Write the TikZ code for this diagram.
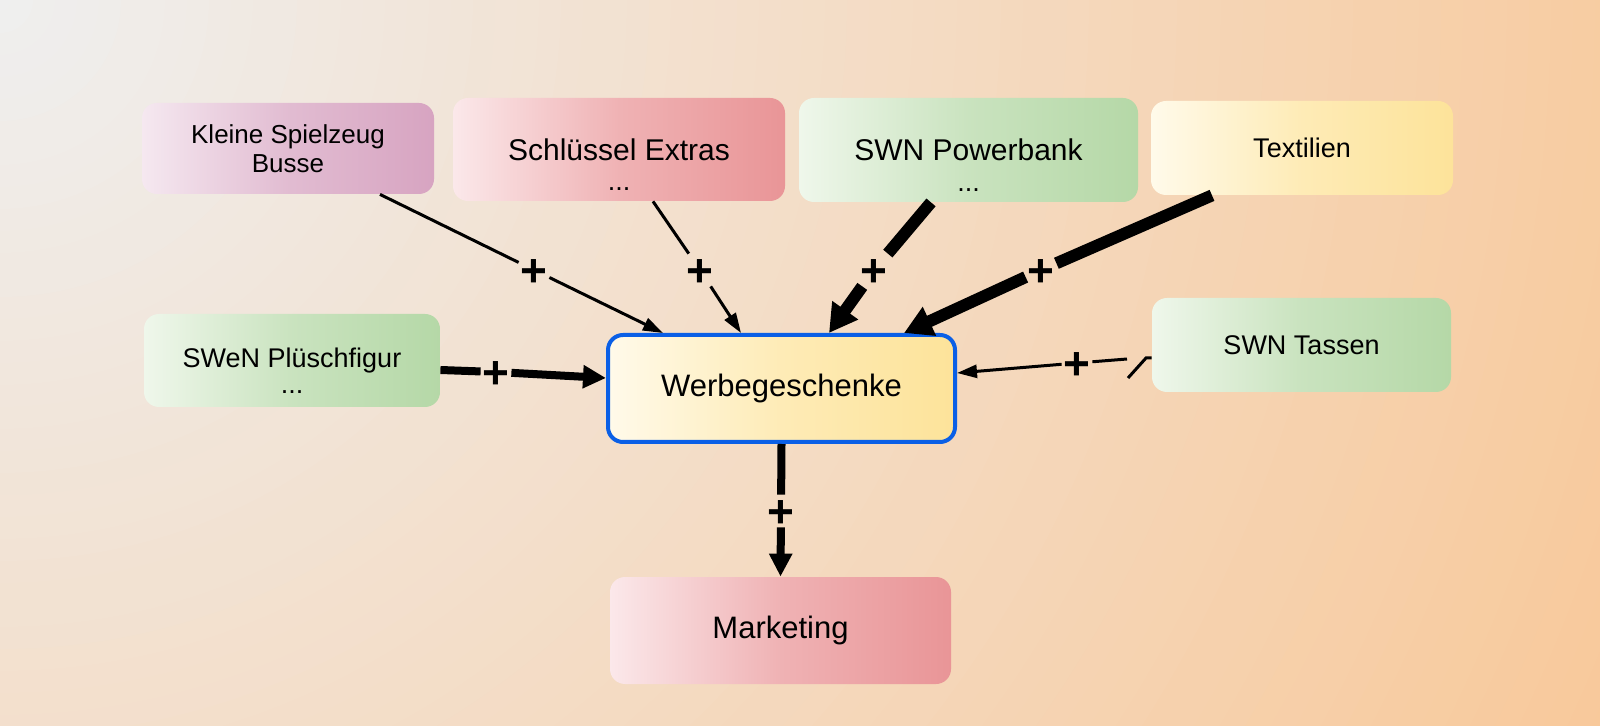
\documentclass[tikz,border=0pt]{standalone}
\usepackage{fontspec}
\setmainfont{Liberation Sans}
\usetikzlibrary{arrows.meta,calc}
\definecolor{bgA}{HTML}{EFEFEF}
\definecolor{bgC}{HTML}{F8C99B}
\definecolor{grL}{HTML}{EFF7EB}
\definecolor{grR}{HTML}{B5D8A7}
\definecolor{rdL}{HTML}{FBE8EA}
\definecolor{rdR}{HTML}{E99597}
\definecolor{puL}{HTML}{F5E8F0}
\definecolor{puR}{HTML}{D7A4C1}
\definecolor{yeL}{HTML}{FFFAEA}
\definecolor{yeR}{HTML}{FDE39A}
\definecolor{blueB}{HTML}{0A5FE6}
\newcommand{\plussign}{\smash{\raisebox{-0.35em}{+}}}
\tikzset{
  box/.style={rounded corners=7.5pt, inner sep=0pt, align=center, text=black},
  greenbox/.style={box, left color=grL, right color=grR, middle color=grR!65!grL},
  redbox/.style={box, left color=rdL, right color=rdR, middle color=rdR!65!rdL},
  purplebox/.style={box, left color=puL, right color=puR, middle color=puR!65!puL},
  yellowbox/.style={box, left color=yeL, right color=yeR, middle color=yeR!65!yeL},
  bigtext/.style={font=\fontsize{15}{18}\selectfont},
  smalltext/.style={font=\fontsize{13.5}{14.5}\selectfont},
  dots/.style={font=\fontsize{13.5}{14.5}\selectfont, inner sep=0pt, anchor=base},
  plusnode/.style={font=\bfseries\fontsize{23}{23}\selectfont, inner sep=0pt, minimum width=15pt, minimum height=16pt},
  thinline/.style={line width=1.5pt, draw=black},
  thinarrow/.style={thinline, -{Triangle[length=10pt,width=6.5pt]}},
  midline/.style={line width=4pt, draw=black},
  midarrow/.style={midline, -{Triangle[length=11.5pt,width=11pt]}},
  thickline/.style={line width=6pt, draw=black},
  thickarrow/.style={thickline, -{Triangle[length=14pt,width=15pt]}},
}
\begin{document}
\begin{tikzpicture}[x=0.5pt,y=-0.5pt]
% background: radial gradient centred on the top-left corner
\begin{scope}
\clip (0,0) rectangle (1600,726);
\fill[bgC] (0,0) rectangle (1600,726);
\foreach \i in {80,79,...,0}{
  \pgfmathtruncatemacro{\p}{round(\i*100/80)}
  \fill[bgC!\p!bgA] (0,0) circle[radius={(\i+0.5)*22}];
}
\end{scope}
\useasboundingbox (0,0) rectangle (1600,726);

% boxes
\node[purplebox, minimum width=146pt, minimum height=45.5pt, font=\fontsize{13}{14.5}\selectfont] (kleine) at (288,148.5) {Kleine Spielzeug\\Busse};
\node[redbox, bigtext, minimum width=166pt, minimum height=51.5pt] (schl) at (619,149.5) {Schlüssel Extras};
\node[dots] (schldots) at (619,191) {...};
\node[greenbox, bigtext, minimum width=169.5pt, minimum height=52pt] (pb) at (968.5,150) {SWN Powerbank};
\node[dots] (pbdots) at (968.5,192) {...};
\node[yellowbox, smalltext, minimum width=151pt, minimum height=47pt] (tex) at (1302,148) {Textilien};
\node[greenbox, smalltext, minimum width=148pt, minimum height=46.5pt] (pl) at (292,360.5) {SWeN Plüschfigur};
\node[dots] (pldots) at (292,394) {...};
\node[yellowbox, draw=blueB, line width=2pt, font=\fontsize{15.5}{18}\selectfont, minimum width=173.5pt, minimum height=53.5pt] (werbe) at (781.5,388.5) {Werbegeschenke};
\node[greenbox, smalltext, minimum width=149.5pt, minimum height=47pt] (tassen) at (1301.5,345) {SWN Tassen};
\node[redbox, font=\fontsize{15.5}{18}\selectfont, minimum width=170.5pt, minimum height=53.5pt] (mkt) at (780.5,630.5) {Marketing};

% plus labels
\node[plusnode] (p1) at (534,270) {\plussign};
\node[plusnode] (p2) at (700,270) {\plussign};
\node[plusnode] (p3) at (874,270) {\plussign};
\node[plusnode] (p4) at (1041,270) {\plussign};
\node[plusnode] (p5) at (496,372) {\plussign};
\node[plusnode] (p6) at (781,511) {\plussign};
\node[plusnode] (p7) at (1077,363) {\plussign};

% connectors
\draw[thinline] ($(kleine.south)+(92,0)$) -- (p1);
\draw[thinarrow] (p1) -- ($(werbe.north)+(-118.5,0)$);
\draw[thinline] ($(schl.south)+(34,0)$) -- (p2);
\draw[thinarrow] (p2) -- ($(werbe.north)+(-40.5,0)$);
\draw[thickline] ($(pb.south)+(-37.5,0)$) -- (p3);
\draw[thickarrow] (p3) -- ($(werbe.north)+(47.5,0)$);
\draw[thickline] ($(tex.south)+(-90,0)$) -- (p4);
\draw[thickarrow] (p4) -- ($(werbe.north)+(122.5,0)$);
\draw[midline] ($(pl.east)+(0,9.5)$) -- (p5);
\draw[midarrow] (p5) -- ($(werbe.west)+(0,-10.5)$);
\draw[midline] (werbe.south) -- (p6);
\draw[midarrow] (p6) -- (mkt.north);
\coordinate (tElbow) at (1146,358);
\coordinate (tEnd) at (1128,378);
\coordinate (tDash) at (1127,359);
\draw[thinline] ($(tassen.west)+(0,13)$) -- (tElbow) -- (tEnd);
\draw[thinline] (tDash) -- (p7);
\draw[thinarrow] (p7) -- ($(werbe.east)+(0,-15.5)$);
\end{tikzpicture}
\end{document}
